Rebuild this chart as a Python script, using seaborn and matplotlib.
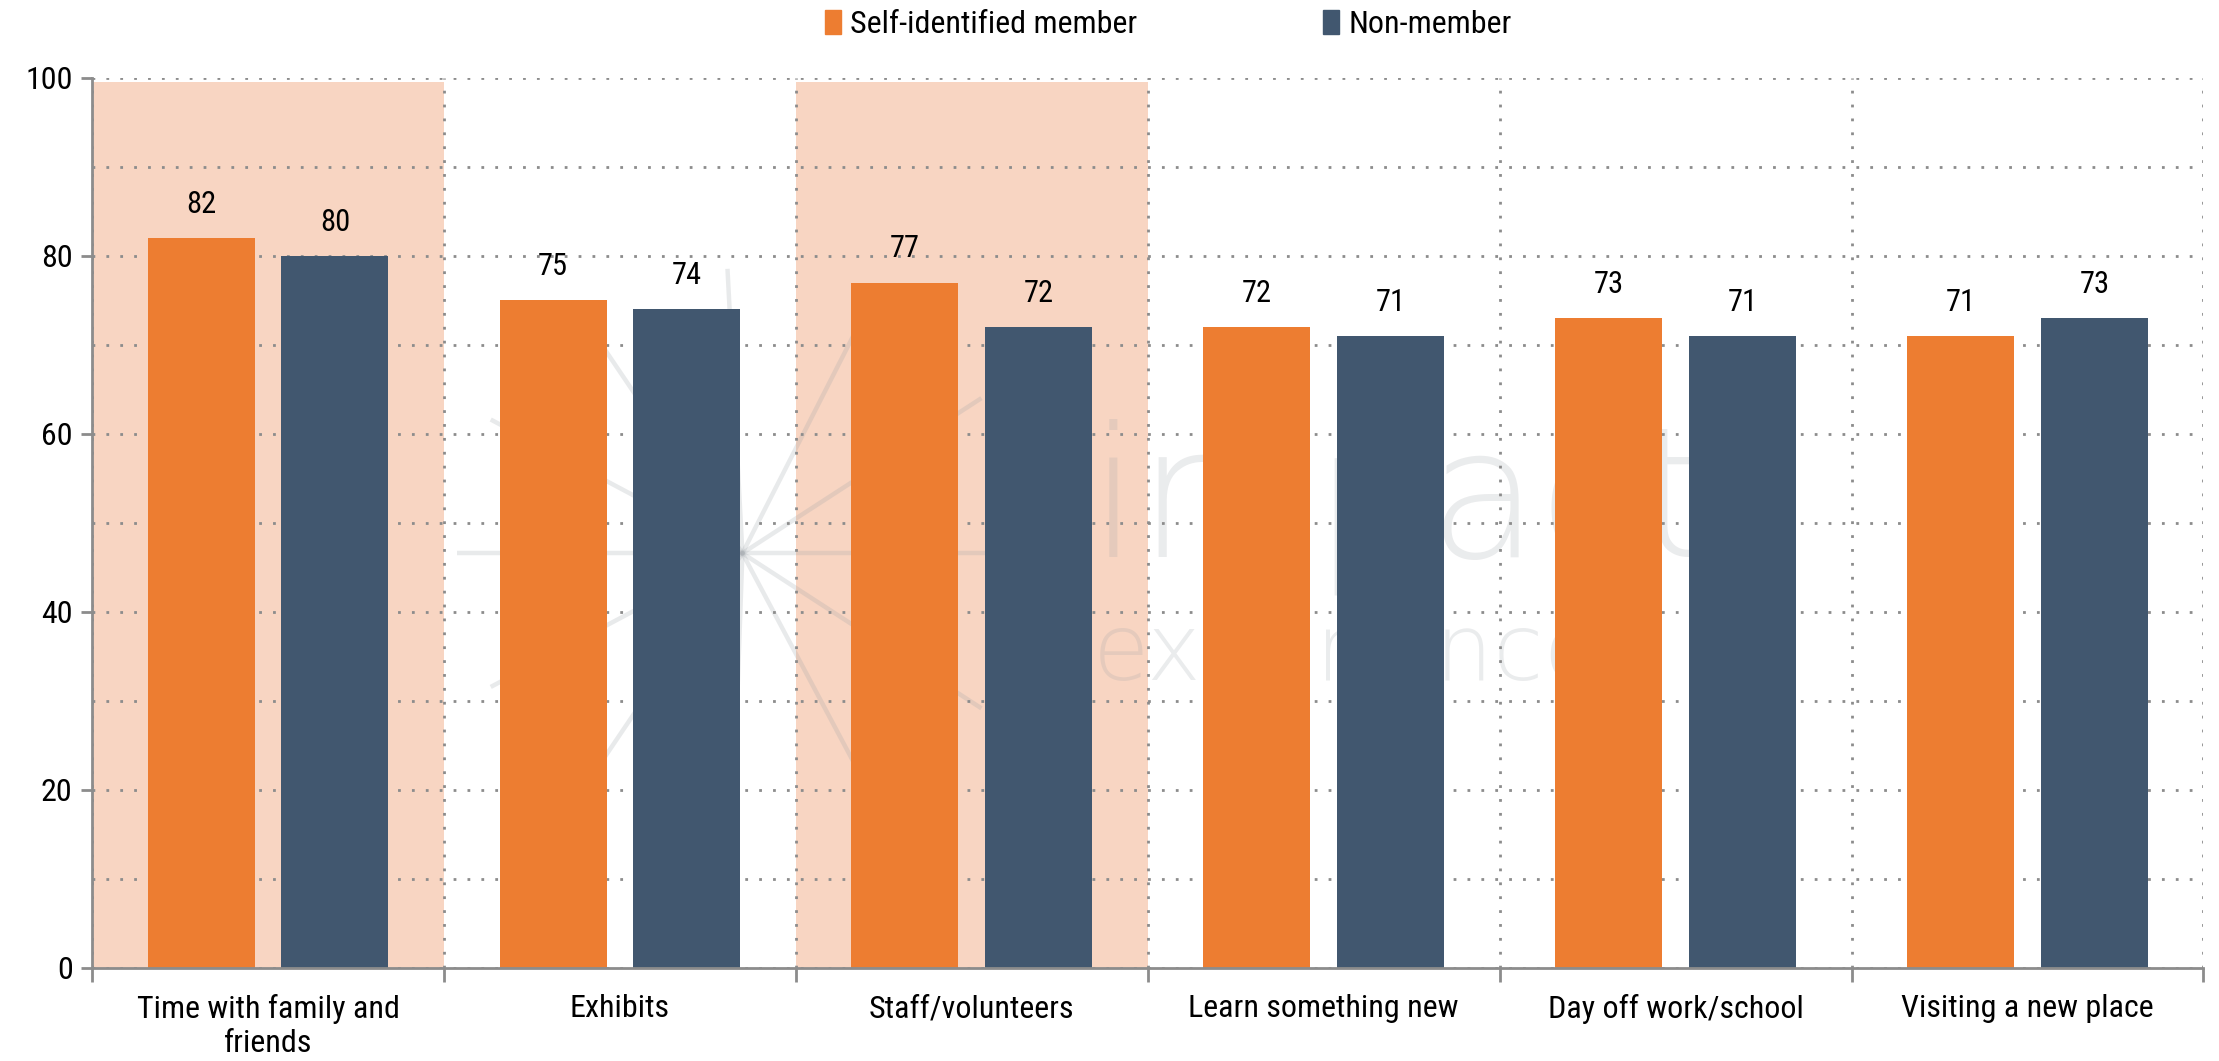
import matplotlib
matplotlib.use("Agg")
import matplotlib.pyplot as plt
from matplotlib import font_manager
import seaborn as sns
import pandas as pd
import numpy as np

categories = ["Time with family and\nfriends", "Exhibits", "Staff/volunteers",
              "Learn something new", "Day off work/school", "Visiting a new place"]
member = [82, 75, 77, 72, 73, 71]
non_member = [80, 74, 72, 71, 71, 73]
series_names = ["Self-identified member", "Non-member"]
highlighted = [0, 2]
y_ticks = [0, 20, 40, 60, 80, 100]

ORANGE = "#ED7D31"
NAVY = "#41576F"
PEACH = "#F8D5C2"
GRID = "#8C8C8C"
WATERMARK = "#9AA0A6"

sns.set_theme(style="white")

# prefer a condensed sans face when one is installed
installed = {f.name for f in font_manager.fontManager.ttflist}
candidates = ["Roboto Condensed", "Liberation Sans Narrow", "Roboto", "Lato", "DejaVu Sans"]
main_font = next(f for f in candidates if f in installed or f == "DejaVu Sans")
plt.rcParams["font.family"] = [main_font, "DejaVu Sans"]
plt.rcParams["text.color"] = "black"
plt.rcParams["xtick.color"] = "black"
plt.rcParams["ytick.color"] = "black"

df = pd.DataFrame({
    "category": categories * 2,
    "value": member + non_member,
    "group": [series_names[0]] * len(categories) + [series_names[1]] * len(categories),
})

fig = plt.figure(figsize=(22.19, 10.61), dpi=100)
ax = fig.add_axes([0.0415, 0.0877, 0.9515, 0.8388])

# shaded background behind highlighted categories
for i in highlighted:
    ax.axvspan(i - 0.5, i + 0.5, ymin=0, ymax=0.995, color=PEACH, zorder=0, lw=0)

sns.barplot(data=df, x="category", y="value", hue="group", order=categories,
            hue_order=series_names, palette=[ORANGE, NAVY], width=0.76, gap=0.2,
            saturation=1, linewidth=0, ax=ax, zorder=3, legend=True)

# value labels above every bar
for cont in ax.containers:
    ax.bar_label(cont, labels=[f"{v:.0f}" for v in cont.datavalues], padding=14,
                 fontsize=22, color="black")

# faint logo watermark: radiating star plus wordmark, under the grid
cx, cy = 0.308, 0.466
rx, ry = 0.135, 0.320
for deg in [0, 33, 63, 93, 124, 152, 180, 208, 236, 268, 298, 327]:
    a = np.deg2rad(deg)
    ax.plot([cx, cx + rx * np.cos(a)], [cy, cy + ry * np.sin(a)],
            transform=ax.transAxes, color=WATERMARK, alpha=0.22, lw=3.2, zorder=0.3,
            solid_capstyle="butt")
ax.text(0.472, 0.462, "impacts", transform=ax.transAxes, fontsize=130, color=WATERMARK,
        alpha=0.2, ha="left", va="baseline", zorder=0.3, family="DejaVu Sans",
        fontweight="light")
ax.text(0.474, 0.324, "experience", transform=ax.transAxes, fontsize=66, color=WATERMARK,
        alpha=0.2, ha="left", va="baseline", zorder=0.3, family="DejaVu Sans",
        fontweight="light")

ax.set_xlim(-0.5, len(categories) - 0.5)
ax.set_ylim(0, 100)
ax.set_xlabel("")
ax.set_ylabel("")

ax.set_yticks(y_ticks)
ax.set_yticks(np.arange(10, 100, 20), minor=True)
ax.set_yticklabels([str(t) for t in y_ticks], fontsize=23)
ax.tick_params(axis="y", which="major", length=8, width=2, color=GRID, pad=6, left=True)
ax.tick_params(axis="y", which="minor", length=0)

ax.set_xticks(range(len(categories)))
ax.set_xticklabels(categories, fontsize=23)
ax.set_xticks(np.arange(-0.5, len(categories)), minor=True)
ax.tick_params(axis="x", which="major", length=0, pad=19)
ax.tick_params(axis="x", which="minor", length=10, width=2, color=GRID, bottom=True)

ax.grid(False)
ax.set_axisbelow(True)
ax.yaxis.grid(True, which="both", linestyle=(0, (1, 4)), color=GRID, lw=2)
ax.xaxis.grid(True, which="minor", linestyle=(0, (1, 4)), color=GRID, lw=2)

for side in ["top", "right"]:
    ax.spines[side].set_visible(False)
for side in ["left", "bottom"]:
    ax.spines[side].set_color(GRID)
    ax.spines[side].set_linewidth(2)
    ax.spines[side].set_zorder(4)

ax.legend_.remove()
handles = [plt.Rectangle((0, 0), 1, 1, color=c) for c in (ORANGE, NAVY)]
fig.legend(handles, series_names, loc="center", bbox_to_anchor=(0.5265, 0.977),
           ncol=2, frameon=False, fontsize=23, handlelength=0.5, handleheight=0.8,
           handletextpad=0.3, columnspacing=5.8)

fig.savefig("out.png", dpi=100)
